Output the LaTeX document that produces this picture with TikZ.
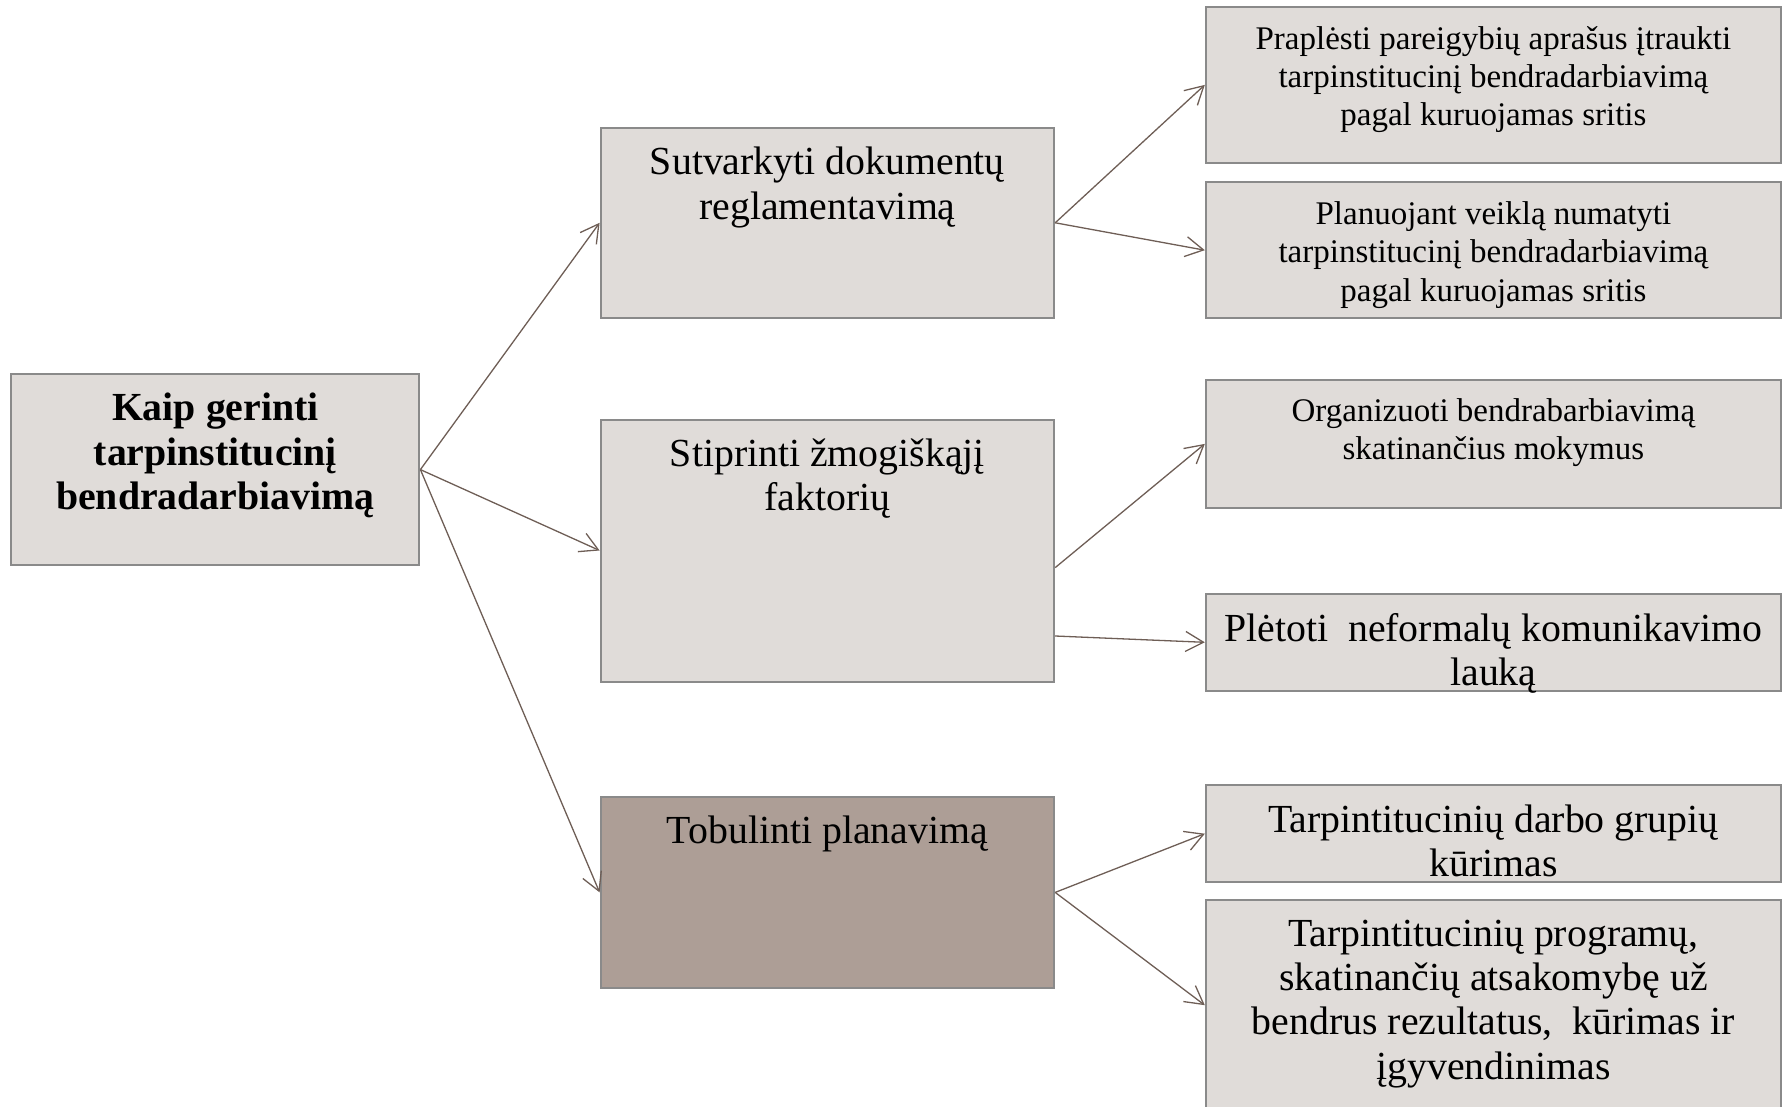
\documentclass[tikz,border=0pt]{standalone}
\usepackage{fontspec}
\setmainfont{Liberation Serif}
\usepackage{xcolor}
\usepackage{tikz}
\usetikzlibrary{arrows.meta}
\usetikzlibrary{positioning}

\definecolor{boxfill}{RGB}{224,220,217}
\definecolor{boxdark}{RGB}{173,158,150}
\definecolor{boxline}{RGB}{138,138,138}
\definecolor{linkcol}{RGB}{110,94,86}

\begin{document}
\begin{tikzpicture}
        [x=1pt,y=-1pt,
          box/.style={rectangle,draw=boxline,fill=boxfill,line width=1pt,inner sep=0pt},
          tl/.style={anchor=north,align=center,inner sep=10pt,draw=none,fill=none},
          big/.style={font=\fontsize{19.9}{22.2}\selectfont},
          small/.style={font=\fontsize{16.5}{19.1}\selectfont},
          link/.style={draw=linkcol,line width=0.65pt,-{Straight Barb[length=9pt,width=10pt]}}]
        \useasboundingbox (0,0) rectangle (893.5,553.5);
        % question
        \node[box,minimum width=204pt,minimum height=95.75pt,
          label={[tl,font=\fontsize{19.9}{22.2}\selectfont\bfseries]north:Kaip gerinti\\tarpinstitucinį\\bendradarbiavimą}] (n0) at (107.7,234.8) {};
        % directions
        \node[box,minimum width=226.8pt,minimum height=95.2pt,
          label={[tl,big]north:Sutvarkyti dokumentų\\reglamentavimą}] (n1) at (413.7,111.4) {};
        \node[box,minimum width=226.8pt,minimum height=131pt,
          label={[tl,big]north:Stiprinti žmogiškąjį\\faktorių}] (n2) at (413.7,275.25) {};
        \node[box,fill=boxdark,minimum width=226.8pt,minimum height=95.75pt,
          label={[tl,big]north:Tobulinti planavimą}] (n3) at (413.7,446.2) {};
        % measures
        \node[box,minimum width=287.6pt,minimum height=78.1pt,
          label={[tl,small]north:Praplėsti pareigybių aprašus įtraukti\\tarpinstitucinį bendradarbiavimą\\pagal kuruojamas sritis}] (n4) at (746.7,42.45) {};
        \node[box,minimum width=287.6pt,minimum height=67.8pt,
          label={[tl,small]north:Planuojant veiklą numatyti\\tarpinstitucinį bendradarbiavimą\\pagal kuruojamas sritis}] (n5) at (746.7,125.1) {};
        \node[box,minimum width=287.6pt,minimum height=64.4pt,
          label={[tl,small]north:Organizuoti bendrabarbiavimą\\skatinančius mokymus}] (n6) at (746.7,221.95) {};
        \node[box,minimum width=287.6pt,minimum height=48.45pt,
          label={[tl,big]north:Plėtoti\ \ neformalų komunikavimo\\lauką}] (n7) at (746.7,321.15) {};
        \node[box,minimum width=287.6pt,minimum height=48.4pt,
          label={[tl,big]north:Tarpintitucinių darbo grupių\\kūrimas}] (n8) at (746.7,416.85) {};
        \node[box,minimum width=287.6pt,minimum height=104.8pt,
          label={[tl,big]north:Tarpintitucinių programų,\\skatinančių atsakomybę už\\bendrus rezultatus,\ \ kūrimas ir\\įgyvendinimas}] (n9) at (746.7,502.6) {};
        \coordinate (c1) at ([yshift=-8.55pt]n2.east);
        \coordinate (c2) at ([yshift=-42.75pt]n2.east);
        \foreach \from/\to in {n0.east/n1.west,n0.east/n2.west,n0.east/n3.west,
            n1.east/n4.west,n1.east/n5.west,c1/n6.west,c2/n7.west,
            n3.east/n8.west,n3.east/n9.west}
        \draw[link] (\from) -- (\to);
      \end{tikzpicture}
\end{document}
